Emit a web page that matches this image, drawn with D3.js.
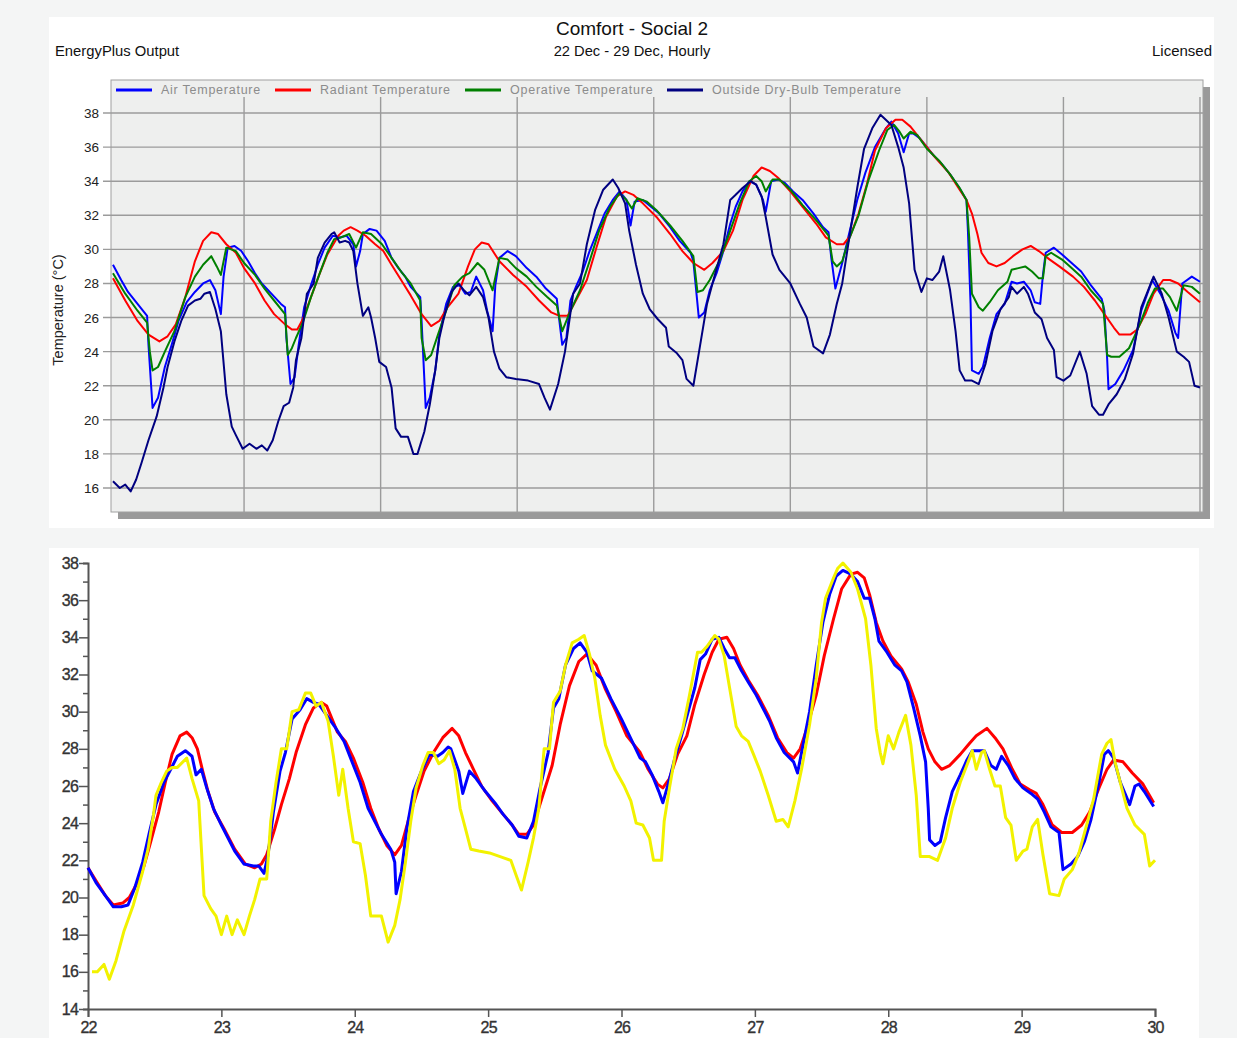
<!DOCTYPE html>
<html lang="en">
<head>
<meta charset="UTF-8">
<title>Comfort - Social 2</title>
<script src="https://d3js.org/d3.v7.min.js"></script>
<style>
  html, body { margin: 0; padding: 0; background: #f4f5f5; }
  svg { display: block; font-family: Arial, "Liberation Sans", sans-serif; }
</style>
</head>
<body>
<div id="chart"></div>
<script>
// ---- data: [day, temperature °C] ----
var dayTicks = [22, 23, 24, 25, 26, 27, 28, 29, 30];
var topTempTicks = [16, 18, 20, 22, 24, 26, 28, 30, 32, 34, 36, 38];
var legendNames = ["Air Temperature", "Radiant Temperature", "Operative Temperature", "Outside Dry-Bulb Temperature"];

// top chart (EnergyPlus output)
var airTop = [[22.04,29.1],[22.10,28.2],[22.15,27.5],[22.22,26.8],[22.29,26.1],[22.30,24.4],[22.33,20.7],[22.37,21.3],[22.42,23.1],[22.47,24.4],[22.52,25.8],[22.58,26.9],[22.64,27.5],[22.70,28.0],[22.75,28.2],[22.79,27.6],[22.83,26.2],[22.85,28.4],[22.88,30.1],[22.93,30.2],[22.98,29.9],[23.03,29.3],[23.08,28.6],[23.13,28.0],[23.20,27.4],[23.27,26.8],[23.30,26.6],[23.31,24.8],[23.34,22.1],[23.37,22.5],[23.40,24.4],[23.44,26.6],[23.49,27.9],[23.54,29.1],[23.59,30.1],[23.65,30.8],[23.70,30.7],[23.75,30.8],[23.80,30.3],[23.82,29.0],[23.85,29.9],[23.87,30.9],[23.92,31.2],[23.97,31.1],[24.03,30.5],[24.08,29.5],[24.13,28.9],[24.18,28.4],[24.22,27.8],[24.29,27.2],[24.30,25.8],[24.33,20.7],[24.36,21.3],[24.40,22.9],[24.43,25.0],[24.48,26.8],[24.53,27.8],[24.58,27.9],[24.62,27.4],[24.66,27.5],[24.70,28.4],[24.75,27.6],[24.78,26.4],[24.82,25.2],[24.84,27.9],[24.87,29.5],[24.93,29.9],[24.99,29.6],[25.07,28.9],[25.14,28.4],[25.21,27.7],[25.29,27.1],[25.30,26.4],[25.33,24.4],[25.36,24.8],[25.39,27.0],[25.43,27.8],[25.48,28.7],[25.53,29.9],[25.58,30.9],[25.64,32.1],[25.70,32.9],[25.75,33.4],[25.80,32.9],[25.83,31.4],[25.86,32.8],[25.92,32.9],[25.98,32.5],[26.04,32.1],[26.12,31.3],[26.19,30.5],[26.27,29.8],[26.29,29.3],[26.33,26.0],[26.37,26.3],[26.41,27.6],[26.46,28.6],[26.51,29.9],[26.56,31.5],[26.60,32.5],[26.65,33.4],[26.70,34.0],[26.75,33.8],[26.80,32.9],[26.82,32.2],[26.86,34.0],[26.91,34.1],[26.96,33.9],[27.02,33.4],[27.09,32.9],[27.17,32.1],[27.24,31.3],[27.28,31.0],[27.30,29.5],[27.33,27.7],[27.38,29.2],[27.43,30.9],[27.49,32.9],[27.55,34.5],[27.62,36.0],[27.70,37.1],[27.74,37.5],[27.79,36.8],[27.83,35.7],[27.87,36.8],[27.90,36.8],[27.95,36.5],[28.00,36.0],[28.05,35.5],[28.11,35.0],[28.17,34.4],[28.23,33.7],[28.29,32.9],[28.30,31.2],[28.32,26.8],[28.33,22.9],[28.38,22.7],[28.41,23.1],[28.46,24.8],[28.51,26.2],[28.57,26.8],[28.62,28.1],[28.66,28.0],[28.71,28.1],[28.76,27.6],[28.79,26.9],[28.83,26.8],[28.85,28.5],[28.87,29.8],[28.93,30.1],[28.99,29.7],[29.06,29.2],[29.13,28.7],[29.20,27.9],[29.28,27.1],[29.30,26.4],[29.32,23.6],[29.33,21.8],[29.38,22.1],[29.44,22.9],[29.51,24.1],[29.57,26.4],[29.65,28.2],[29.71,27.4],[29.77,26.4],[29.82,25.1],[29.84,24.8],[29.87,28.0],[29.94,28.4],[30.00,28.1]];
var radiantTop = [[22.04,28.3],[22.13,27.0],[22.22,25.8],[22.30,25.0],[22.38,24.6],[22.44,24.9],[22.50,25.6],[22.57,27.2],[22.64,29.3],[22.70,30.5],[22.76,31.0],[22.81,30.9],[22.87,30.3],[22.94,29.8],[23.00,28.9],[23.08,28.0],[23.15,27.0],[23.22,26.2],[23.30,25.6],[23.35,25.3],[23.39,25.3],[23.43,25.9],[23.49,27.2],[23.55,28.5],[23.61,29.7],[23.69,30.8],[23.73,31.1],[23.78,31.3],[23.83,31.1],[23.89,30.8],[23.96,30.3],[24.02,29.9],[24.08,29.1],[24.15,28.2],[24.22,27.3],[24.30,26.2],[24.37,25.5],[24.43,25.8],[24.49,26.6],[24.57,27.4],[24.64,29.0],[24.69,30.0],[24.74,30.4],[24.79,30.3],[24.87,29.3],[24.97,28.5],[25.07,27.8],[25.16,27.0],[25.25,26.3],[25.31,26.1],[25.37,26.1],[25.43,27.0],[25.51,28.2],[25.58,30.1],[25.65,31.9],[25.73,33.1],[25.79,33.4],[25.85,33.2],[25.92,32.7],[26.02,31.9],[26.12,30.9],[26.21,29.9],[26.29,29.2],[26.37,28.8],[26.43,29.2],[26.51,29.9],[26.58,31.1],[26.65,32.9],[26.73,34.3],[26.79,34.8],[26.85,34.6],[26.91,34.2],[27.00,33.4],[27.09,32.5],[27.19,31.5],[27.26,30.7],[27.34,30.3],[27.39,30.3],[27.44,30.8],[27.50,32.1],[27.56,33.8],[27.62,35.8],[27.70,37.1],[27.77,37.6],[27.82,37.6],[27.88,37.2],[27.96,36.4],[28.06,35.4],[28.16,34.5],[28.24,33.5],[28.29,32.9],[28.33,32.1],[28.37,30.9],[28.40,29.8],[28.45,29.2],[28.51,29.0],[28.57,29.2],[28.63,29.6],[28.70,30.0],[28.76,30.2],[28.82,29.9],[28.90,29.4],[28.97,29.0],[29.07,28.4],[29.15,27.8],[29.23,27.0],[29.30,26.2],[29.37,25.4],[29.41,25.0],[29.49,25.0],[29.54,25.3],[29.60,26.2],[29.66,27.4],[29.73,28.2],[29.78,28.2],[29.84,28.0],[29.91,27.5],[30.00,26.9]];
var operativeTop = [[22.04,28.6],[22.13,27.4],[22.22,26.4],[22.29,25.7],[22.31,24.0],[22.33,22.9],[22.37,23.1],[22.42,24.0],[22.49,25.2],[22.57,27.2],[22.64,28.4],[22.70,29.1],[22.76,29.6],[22.80,29.0],[22.83,28.5],[22.87,30.1],[22.94,29.9],[23.00,29.2],[23.08,28.5],[23.15,27.7],[23.22,27.0],[23.30,26.2],[23.32,23.8],[23.35,24.2],[23.38,24.8],[23.43,25.7],[23.49,27.2],[23.55,28.5],[23.61,29.8],[23.66,30.6],[23.71,30.7],[23.77,30.9],[23.82,30.1],[23.87,31.0],[23.93,30.9],[24.01,30.3],[24.08,29.5],[24.15,28.7],[24.22,28.0],[24.29,27.0],[24.30,24.8],[24.33,23.5],[24.37,23.8],[24.42,25.0],[24.48,26.4],[24.54,27.9],[24.60,28.4],[24.65,28.6],[24.71,29.2],[24.76,28.8],[24.82,27.6],[24.87,29.5],[24.93,29.4],[24.99,28.9],[25.07,28.4],[25.14,27.8],[25.22,27.2],[25.29,26.7],[25.33,25.2],[25.38,26.2],[25.46,27.6],[25.53,29.3],[25.60,31.1],[25.68,32.5],[25.75,33.3],[25.80,32.9],[25.84,32.4],[25.88,33.0],[25.95,32.8],[26.02,32.3],[26.12,31.4],[26.21,30.5],[26.29,29.6],[26.32,27.5],[26.36,27.6],[26.41,28.2],[26.48,29.3],[26.56,31.1],[26.63,32.7],[26.70,34.0],[26.75,34.3],[26.79,34.0],[26.82,33.4],[26.87,34.1],[26.92,34.1],[27.00,33.5],[27.09,32.6],[27.19,31.7],[27.28,30.8],[27.31,29.3],[27.34,29.0],[27.38,29.3],[27.43,30.6],[27.50,32.0],[27.57,34.0],[27.65,35.8],[27.71,37.0],[27.76,37.3],[27.80,36.9],[27.83,36.5],[27.88,36.9],[27.93,36.7],[28.00,35.9],[28.09,35.2],[28.17,34.4],[28.24,33.6],[28.29,32.9],[28.31,30.7],[28.33,27.4],[28.38,26.6],[28.41,26.4],[28.46,26.9],[28.52,27.6],[28.59,28.1],[28.62,28.8],[28.67,28.9],[28.72,29.0],[28.77,28.7],[28.82,28.3],[28.85,28.3],[28.87,29.6],[28.91,29.8],[28.99,29.4],[29.06,28.9],[29.13,28.4],[29.20,27.6],[29.29,26.8],[29.32,23.8],[29.35,23.7],[29.41,23.7],[29.48,24.2],[29.52,24.9],[29.57,25.8],[29.62,26.9],[29.67,27.7],[29.73,27.7],[29.78,27.2],[29.83,26.4],[29.88,27.9],[29.94,27.8],[30.00,27.4]];
var outsideTop = [[22.04,16.4],[22.09,16.0],[22.13,16.2],[22.17,15.8],[22.21,16.5],[22.25,17.5],[22.30,18.8],[22.36,20.2],[22.41,21.9],[22.44,23.1],[22.49,24.6],[22.54,25.8],[22.59,26.7],[22.64,27.0],[22.68,27.1],[22.71,27.4],[22.75,27.5],[22.79,26.5],[22.83,25.2],[22.87,21.5],[22.91,19.6],[22.94,19.1],[22.99,18.3],[23.04,18.6],[23.09,18.3],[23.13,18.5],[23.17,18.2],[23.21,18.8],[23.25,19.9],[23.29,20.8],[23.33,21.0],[23.36,21.9],[23.38,23.5],[23.42,24.8],[23.46,27.4],[23.51,28.0],[23.54,29.5],[23.59,30.4],[23.64,30.9],[23.66,31.0],[23.70,30.4],[23.74,30.5],[23.77,30.4],[23.80,29.9],[23.83,28.0],[23.87,26.1],[23.91,26.6],[23.93,26.0],[23.96,24.8],[23.99,23.4],[24.04,23.1],[24.08,21.9],[24.11,19.5],[24.15,19.0],[24.20,19.0],[24.24,18.0],[24.27,18.0],[24.32,19.3],[24.36,20.9],[24.40,22.9],[24.43,24.8],[24.47,26.2],[24.52,27.5],[24.57,28.0],[24.61,27.6],[24.65,27.3],[24.70,27.8],[24.75,27.2],[24.79,26.0],[24.83,24.0],[24.87,23.0],[24.92,22.5],[24.99,22.4],[25.08,22.3],[25.16,22.1],[25.20,21.3],[25.24,20.6],[25.30,22.1],[25.35,24.0],[25.41,27.4],[25.46,28.0],[25.51,30.3],[25.57,32.3],[25.63,33.5],[25.70,34.1],[25.74,33.6],[25.79,32.7],[25.82,31.1],[25.87,29.1],[25.92,27.4],[25.97,26.5],[26.03,25.9],[26.09,25.4],[26.11,24.3],[26.17,23.9],[26.21,23.5],[26.24,22.4],[26.29,22.0],[26.34,24.4],[26.39,26.8],[26.43,28.0],[26.51,30.3],[26.56,32.9],[26.60,33.2],[26.65,33.6],[26.71,34.0],[26.75,33.8],[26.79,33.1],[26.82,31.9],[26.87,29.7],[26.92,28.8],[27.00,28.0],[27.07,26.8],[27.12,26.0],[27.17,24.3],[27.24,23.9],[27.29,25.0],[27.34,26.8],[27.38,28.0],[27.44,31.1],[27.49,33.6],[27.54,35.9],[27.60,37.1],[27.66,37.9],[27.74,37.3],[27.79,36.0],[27.83,34.8],[27.87,32.7],[27.91,28.8],[27.96,27.5],[28.00,28.3],[28.04,28.2],[28.09,28.7],[28.12,29.6],[28.17,27.6],[28.21,25.2],[28.24,22.9],[28.28,22.3],[28.33,22.3],[28.38,22.1],[28.43,23.3],[28.48,25.2],[28.54,26.5],[28.60,27.2],[28.62,27.8],[28.66,27.4],[28.71,27.8],[28.74,27.4],[28.79,26.3],[28.84,25.9],[28.88,24.8],[28.93,24.1],[28.95,22.5],[29.00,22.3],[29.05,22.6],[29.12,24.0],[29.17,22.7],[29.21,20.8],[29.26,20.3],[29.29,20.3],[29.33,20.9],[29.39,21.5],[29.45,22.4],[29.51,23.9],[29.57,26.6],[29.66,28.4],[29.72,27.4],[29.77,26.0],[29.83,24.0],[29.88,23.7],[29.92,23.4],[29.96,22.0],[30.00,21.9]];

// bottom chart (re-plot)
var airBottom = [[22.00,21.6],[22.06,20.8],[22.13,20.1],[22.19,19.5],[22.25,19.5],[22.30,19.6],[22.35,20.5],[22.41,21.9],[22.46,23.5],[22.51,25.0],[22.57,26.2],[22.62,26.9],[22.67,27.6],[22.73,27.9],[22.78,27.6],[22.81,26.6],[22.85,26.9],[22.89,25.9],[22.94,24.8],[23.00,23.9],[23.05,23.2],[23.10,22.5],[23.17,21.8],[23.24,21.7],[23.28,21.7],[23.32,21.3],[23.35,22.3],[23.39,24.6],[23.44,26.8],[23.48,27.8],[23.53,29.6],[23.59,30.1],[23.64,30.7],[23.69,30.5],[23.73,30.4],[23.79,29.8],[23.85,29.2],[23.92,28.4],[23.98,27.3],[24.04,26.2],[24.10,24.8],[24.15,24.1],[24.20,23.4],[24.27,22.6],[24.30,21.9],[24.31,20.2],[24.35,21.4],[24.39,23.7],[24.44,25.7],[24.50,26.8],[24.56,27.7],[24.62,27.6],[24.66,27.8],[24.70,28.1],[24.72,28.0],[24.78,26.8],[24.81,25.6],[24.86,26.8],[24.91,26.4],[24.98,25.7],[25.05,25.1],[25.11,24.5],[25.18,23.9],[25.23,23.3],[25.29,23.2],[25.34,24.1],[25.39,25.9],[25.45,27.8],[25.49,30.2],[25.53,30.7],[25.58,32.5],[25.64,33.4],[25.69,33.7],[25.74,33.2],[25.78,32.2],[25.85,31.8],[25.92,30.7],[26.00,29.6],[26.08,28.4],[26.14,27.5],[26.18,27.3],[26.23,26.6],[26.28,25.7],[26.31,25.1],[26.35,26.1],[26.40,27.5],[26.45,28.7],[26.50,30.0],[26.55,31.3],[26.59,32.8],[26.63,33.1],[26.68,33.9],[26.73,34.0],[26.77,33.4],[26.81,32.9],[26.85,32.9],[26.90,32.2],[26.95,31.6],[27.01,30.9],[27.06,30.2],[27.11,29.5],[27.16,28.6],[27.22,27.8],[27.29,27.3],[27.32,26.7],[27.35,27.8],[27.41,30.0],[27.46,32.5],[27.51,34.8],[27.56,36.3],[27.61,37.3],[27.66,37.6],[27.72,37.4],[27.77,37.0],[27.82,36.1],[27.86,36.1],[27.90,35.0],[27.93,33.8],[27.99,33.2],[28.05,32.5],[28.10,32.2],[28.14,31.6],[28.19,30.2],[28.24,28.7],[28.28,27.3],[28.30,24.8],[28.31,23.1],[28.35,22.8],[28.39,23.0],[28.43,24.3],[28.48,25.7],[28.54,26.6],[28.59,27.4],[28.63,27.9],[28.72,27.9],[28.77,27.1],[28.81,26.9],[28.85,27.6],[28.90,27.1],[28.95,26.4],[29.01,25.9],[29.07,25.6],[29.12,25.3],[29.17,24.6],[29.22,23.8],[29.28,23.5],[29.31,21.5],[29.37,21.8],[29.42,22.2],[29.47,23.0],[29.52,24.2],[29.58,26.2],[29.62,27.7],[29.65,27.9],[29.69,27.5],[29.74,26.2],[29.81,25.0],[29.85,26.0],[29.88,26.1],[29.92,25.7],[29.99,24.9]];
var radiantBottom = [[22.00,21.6],[22.06,20.9],[22.13,20.1],[22.19,19.6],[22.26,19.7],[22.31,20.0],[22.37,20.8],[22.42,21.7],[22.47,23.0],[22.53,24.6],[22.58,26.2],[22.63,27.7],[22.69,28.7],[22.74,28.9],[22.78,28.6],[22.82,28.0],[22.86,26.8],[22.90,25.7],[22.95,24.6],[23.02,23.7],[23.10,22.6],[23.18,21.8],[23.25,21.6],[23.30,21.8],[23.34,22.3],[23.40,23.7],[23.45,25.0],[23.51,26.4],[23.56,27.8],[23.63,29.3],[23.69,30.2],[23.75,30.5],[23.79,30.3],[23.83,29.6],[23.87,28.9],[23.93,28.4],[23.99,27.5],[24.06,26.2],[24.12,24.8],[24.18,23.7],[24.24,22.8],[24.30,22.3],[24.35,22.8],[24.40,24.1],[24.46,25.5],[24.52,26.8],[24.59,27.8],[24.66,28.6],[24.73,29.1],[24.78,28.7],[24.83,27.8],[24.89,26.9],[24.95,26.0],[25.03,25.2],[25.11,24.5],[25.18,23.9],[25.23,23.4],[25.29,23.4],[25.34,23.9],[25.41,25.5],[25.48,27.1],[25.54,29.3],[25.61,31.4],[25.68,32.7],[25.74,33.1],[25.81,32.5],[25.88,31.2],[25.96,30.0],[26.04,28.7],[26.14,27.8],[26.20,26.9],[26.27,26.1],[26.31,25.9],[26.36,26.4],[26.42,27.7],[26.49,28.7],[26.55,30.4],[26.62,32.0],[26.68,33.2],[26.73,33.9],[26.79,34.0],[26.84,33.4],[26.89,32.5],[26.95,31.7],[27.02,30.9],[27.10,29.8],[27.17,28.6],[27.24,27.8],[27.29,27.5],[27.34,28.0],[27.39,29.1],[27.46,30.9],[27.52,33.0],[27.59,35.0],[27.65,36.6],[27.72,37.4],[27.77,37.5],[27.82,37.2],[27.86,36.3],[27.91,34.8],[27.96,33.8],[28.02,33.0],[28.10,32.3],[28.15,31.6],[28.21,30.4],[28.26,28.9],[28.30,28.0],[28.35,27.3],[28.40,26.9],[28.46,27.1],[28.54,27.7],[28.61,28.3],[28.66,28.7],[28.74,29.1],[28.80,28.6],[28.86,28.0],[28.93,26.9],[28.99,26.1],[29.06,25.8],[29.11,25.6],[29.16,25.0],[29.23,23.9],[29.30,23.5],[29.38,23.5],[29.45,23.9],[29.51,24.6],[29.58,25.9],[29.64,26.9],[29.69,27.4],[29.76,27.3],[29.83,26.7],[29.91,26.1],[29.99,25.1]];
var outsideBottom = [[22.03,16.0],[22.07,16.0],[22.12,16.4],[22.16,15.6],[22.21,16.6],[22.27,18.2],[22.34,19.6],[22.41,21.4],[22.45,22.6],[22.49,24.4],[22.51,25.5],[22.55,26.2],[22.59,26.8],[22.63,27.0],[22.67,27.0],[22.74,27.5],[22.78,26.4],[22.83,25.2],[22.87,20.1],[22.92,19.4],[22.96,19.0],[23.00,18.0],[23.04,19.0],[23.08,18.0],[23.12,18.8],[23.17,18.0],[23.21,19.0],[23.25,19.9],[23.29,21.0],[23.34,21.0],[23.37,24.1],[23.41,26.2],[23.45,28.0],[23.49,28.0],[23.53,30.0],[23.58,30.1],[23.63,31.0],[23.67,31.0],[23.71,30.3],[23.75,30.5],[23.80,29.5],[23.84,27.6],[23.88,25.5],[23.91,26.9],[23.95,24.8],[23.99,23.0],[24.04,22.9],[24.08,21.2],[24.12,19.0],[24.20,19.0],[24.25,17.6],[24.30,18.5],[24.34,19.9],[24.38,21.9],[24.42,24.1],[24.46,25.9],[24.51,27.1],[24.55,27.8],[24.59,27.8],[24.63,27.2],[24.67,27.4],[24.71,27.9],[24.75,26.9],[24.79,24.8],[24.83,23.7],[24.87,22.6],[24.93,22.5],[25.01,22.4],[25.09,22.2],[25.17,22.0],[25.21,21.2],[25.25,20.4],[25.30,21.9],[25.34,23.2],[25.38,24.8],[25.42,28.0],[25.46,28.0],[25.49,30.5],[25.54,31.1],[25.58,32.5],[25.63,33.7],[25.68,33.9],[25.72,34.1],[25.76,33.1],[25.80,31.8],[25.84,29.8],[25.88,28.2],[25.95,26.9],[26.02,26.0],[26.07,25.2],[26.11,24.0],[26.16,23.9],[26.21,23.2],[26.24,22.0],[26.30,22.0],[26.32,24.1],[26.36,25.9],[26.41,28.0],[26.46,29.1],[26.51,30.9],[26.57,33.2],[26.60,33.2],[26.64,33.5],[26.70,34.1],[26.73,33.9],[26.77,33.0],[26.81,31.3],[26.86,29.2],[26.90,28.7],[26.95,28.4],[26.99,27.7],[27.04,26.8],[27.10,25.5],[27.16,24.1],[27.21,24.2],[27.25,23.8],[27.30,25.2],[27.35,26.9],[27.41,29.3],[27.46,31.8],[27.50,34.8],[27.53,36.1],[27.59,37.2],[27.62,37.7],[27.66,38.0],[27.72,37.5],[27.77,36.6],[27.83,35.0],[27.87,32.5],[27.91,29.1],[27.94,27.8],[27.96,27.2],[28.00,28.7],[28.04,28.0],[28.08,28.9],[28.13,29.8],[28.17,28.2],[28.21,25.5],[28.24,22.2],[28.31,22.2],[28.37,22.0],[28.43,23.2],[28.48,24.8],[28.54,26.2],[28.61,27.5],[28.63,27.9],[28.66,26.9],[28.70,27.8],[28.72,27.9],[28.76,26.9],[28.80,26.0],[28.84,26.0],[28.88,24.3],[28.92,23.9],[28.96,22.0],[29.01,22.5],[29.04,22.6],[29.08,23.8],[29.12,24.2],[29.16,22.3],[29.21,20.2],[29.28,20.1],[29.32,21.0],[29.38,21.5],[29.43,22.4],[29.48,23.7],[29.54,25.3],[29.60,27.7],[29.64,28.3],[29.67,28.5],[29.70,27.3],[29.75,25.9],[29.79,24.8],[29.85,23.9],[29.92,23.4],[29.96,21.7],[30.00,22.0]];

var W = 1237, H = 1038;
var svg = d3.select("#chart").append("svg")
    .attr("width", W).attr("height", H);

// ---------------- top chart ----------------
svg.append("rect").attr("x", 49).attr("y", 17).attr("width", 1165).attr("height", 511)
    .attr("fill", "#ffffff");

var topFrame = {left: 111, top: 80, right: 1203, bottom: 512};
var xTop = d3.scaleLinear().domain([22, 30]).range([107.5, 1200]);
var yTop = d3.scaleLinear().domain([16, 38]).range([488, 113]);

svg.append("text").attr("x", 632).attr("y", 35).attr("text-anchor", "middle")
    .attr("font-size", 19).attr("fill", "#111").text("Comfort - Social 2");
svg.append("text").attr("x", 632).attr("y", 56).attr("text-anchor", "middle")
    .attr("font-size", 14.7).attr("fill", "#111").text("22 Dec - 29 Dec, Hourly");
svg.append("text").attr("x", 55).attr("y", 56)
    .attr("font-size", 14.8).attr("fill", "#111").text("EnergyPlus Output");
svg.append("text").attr("x", 1212).attr("y", 56).attr("text-anchor", "end")
    .attr("font-size", 15).attr("fill", "#111").text("Licensed");

// shadow + plot background
svg.append("rect").attr("x", topFrame.left + 7).attr("y", topFrame.top + 7)
    .attr("width", topFrame.right - topFrame.left).attr("height", topFrame.bottom - topFrame.top)
    .attr("fill", "#9a9a9a");
svg.append("rect").attr("x", topFrame.left).attr("y", topFrame.top)
    .attr("width", topFrame.right - topFrame.left).attr("height", topFrame.bottom - topFrame.top)
    .attr("fill", "#eeefee").attr("stroke", "#a0a0a0").attr("stroke-width", 1);

var gTop = svg.append("g");
// horizontal grid + ticks
gTop.selectAll("line.hgrid").data(topTempTicks).enter().append("line")
    .attr("x1", 103).attr("x2", topFrame.right)
    .attr("y1", function(d){ return yTop(d); }).attr("y2", function(d){ return yTop(d); })
    .attr("stroke", "#9b9b9b").attr("stroke-width", 1.4);
gTop.selectAll("text.ytick").data(topTempTicks).enter().append("text")
    .attr("x", 99).attr("y", function(d){ return yTop(d) + 5; })
    .attr("text-anchor", "end").attr("font-size", 13.5).attr("fill", "#222")
    .text(function(d){ return d; });
// vertical grid (day boundaries)
gTop.selectAll("line.vgrid").data(dayTicks.slice(1)).enter().append("line")
    .attr("x1", function(d){ return xTop(d); }).attr("x2", function(d){ return xTop(d); })
    .attr("y1", 97).attr("y2", topFrame.bottom)
    .attr("stroke", "#9b9b9b").attr("stroke-width", 1.4);

svg.append("text").attr("transform", "translate(63,310) rotate(-90)")
    .attr("text-anchor", "middle").attr("font-size", 14.5).attr("fill", "#222")
    .text("Temperature (°C)");

var lineTop = d3.line().x(function(d){ return xTop(d[0]); }).y(function(d){ return yTop(d[1]); });
var topSeries = [
    {data: airTop, color: "#0000ff"},
    {data: radiantTop, color: "#ff0000"},
    {data: operativeTop, color: "#008000"},
    {data: outsideTop, color: "#000080"}
];
topSeries.forEach(function(s){
    gTop.append("path").datum(s.data).attr("d", lineTop)
        .attr("fill", "none").attr("stroke", s.color).attr("stroke-width", 2)
        .attr("stroke-linejoin", "round");
});

// legend
var legendX = [116, 275, 465, 667];
legendNames.forEach(function(name, i){
    gTop.append("line").attr("x1", legendX[i]).attr("x2", legendX[i] + 36)
        .attr("y1", 90).attr("y2", 90)
        .attr("stroke", topSeries[i].color).attr("stroke-width", 3);
    gTop.append("text").attr("x", legendX[i] + 45).attr("y", 94)
        .attr("font-size", 12.5).attr("letter-spacing", 0.75).attr("fill", "#8c8c8c").text(name);
});

// ---------------- bottom chart ----------------
svg.append("rect").attr("x", 49).attr("y", 548).attr("width", 1150).attr("height", 490)
    .attr("fill", "#ffffff");

var xBot = d3.scaleLinear().domain([22, 30]).range([88, 1155]);
var yBot = d3.scaleLinear().domain([14, 38]).range([1009, 563]);

var yAxis = d3.axisLeft(yBot).tickValues(d3.range(14, 39, 1)).tickSize(5)
    .tickFormat(function(d){ return d % 2 === 0 ? d : ""; });
var gy = svg.append("g").attr("transform", "translate(88,0)").call(yAxis);
gy.select(".domain").attr("stroke", "#555").attr("stroke-width", 2);
gy.selectAll(".tick line").attr("stroke", "#555").attr("stroke-width", 1.5)
    .attr("x2", function(d){ return d % 2 === 0 ? -9 : -5; });
gy.selectAll(".tick text").attr("x", -10).attr("font-size", 16).attr("fill", "#333")
    .attr("stroke", "#333").attr("stroke-width", 0.35)
    .attr("font-family", "Arial, sans-serif").attr("letter-spacing", -0.8);

var xAxis = d3.axisBottom(xBot).tickValues(dayTicks).tickSize(8);
var gx = svg.append("g").attr("transform", "translate(0,1009)").call(xAxis);
gx.select(".domain").attr("stroke", "#555").attr("stroke-width", 2);
gx.selectAll(".tick line").attr("stroke", "#555").attr("stroke-width", 1.5);
gx.selectAll(".tick text").attr("y", 13).attr("font-size", 16).attr("fill", "#333")
    .attr("stroke", "#333").attr("stroke-width", 0.35)
    .attr("font-family", "Arial, sans-serif").attr("letter-spacing", -0.8);

var lineBot = d3.line().x(function(d){ return xBot(d[0]); }).y(function(d){ return yBot(d[1]); });
[
    {data: radiantBottom, color: "#ff0000"},
    {data: airBottom, color: "#0000ff"},
    {data: outsideBottom, color: "#f2f200"}
].forEach(function(s){
    svg.append("path").datum(s.data).attr("d", lineBot)
        .attr("fill", "none").attr("stroke", s.color).attr("stroke-width", 3)
        .attr("stroke-linejoin", "round");
});
</script>
</body>
</html>
